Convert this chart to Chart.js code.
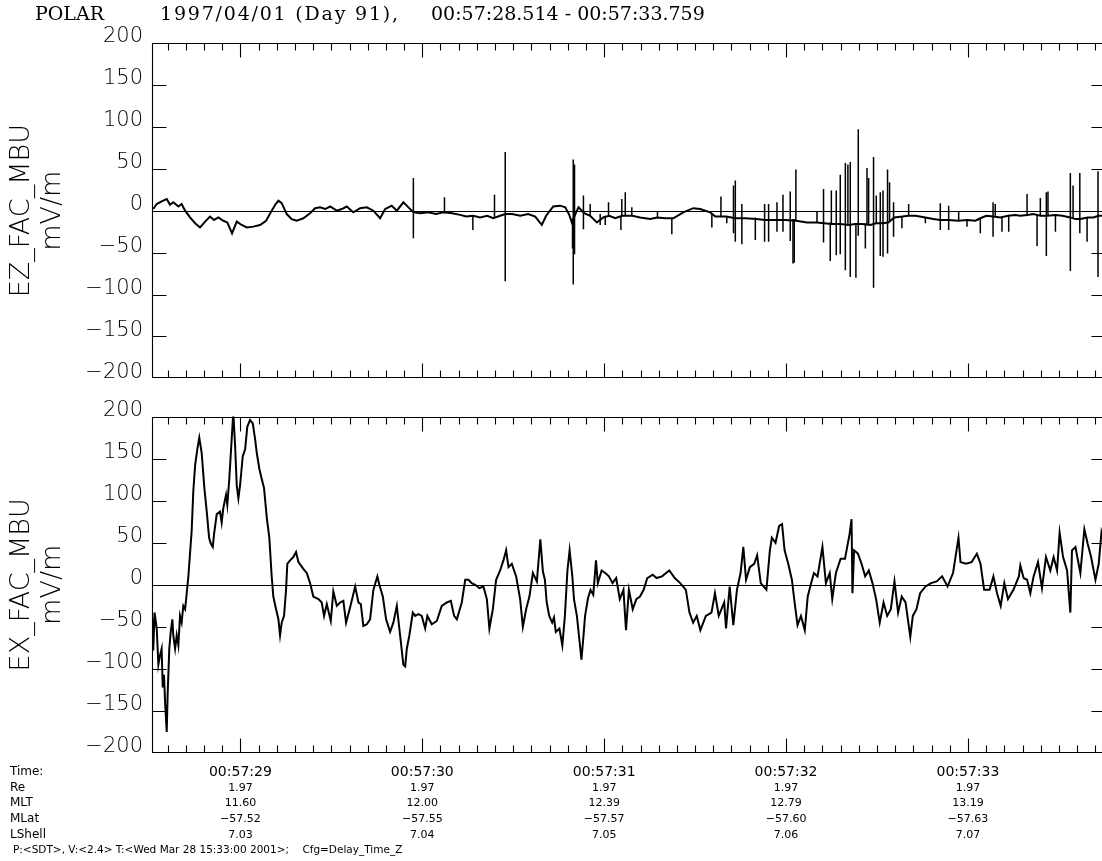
<!DOCTYPE html>
<html>
<head>
<meta charset="utf-8">
<script src="https://cdn.jsdelivr.net/npm/chart.js@4.4.0/dist/chart.umd.min.js"></script>
<style>
  html, body { margin: 0; padding: 0; background: #fff; overflow: hidden; }
  #wrap { position: relative; width: 1102px; height: 861px; overflow: hidden; background: #fff; }
  canvas { position: absolute; left: 0; }
</style>
</head>
<body>
<div id="wrap">
  <canvas id="ezCanvas" width="1120" height="400" style="top:0px"></canvas>
  <canvas id="exCanvas" width="1120" height="466" style="top:395px"></canvas>
</div>
<script>
// Time span of the interval (seconds of minute 00:57)
const timeStart = 28.514;
const timeEnd = 33.759;

// Field axis ticks (mV/m)
const fieldTicks = [-200, -150, -100, -50, 0, 50, 100, 150, 200];

// EZ_FAC_MBU: slowly varying part of the trace
const ezTime = [
  28.521, 28.540, 28.567, 28.595, 28.613, 28.631, 28.659, 28.677, 28.696, 28.723,
  28.751, 28.778, 28.806, 28.833, 28.855, 28.879, 28.906, 28.928, 28.954, 28.980,
  29.007, 29.035, 29.071, 29.108, 29.141, 29.167, 29.191, 29.209, 29.227, 29.255,
  29.282, 29.310, 29.346, 29.383, 29.411, 29.438, 29.466, 29.493, 29.530, 29.557,
  29.585, 29.621, 29.658, 29.695, 29.731, 29.768, 29.796, 29.832, 29.860, 29.896,
  29.924, 29.942,
  29.955, 29.988, 30.032, 30.076, 30.115, 30.164, 30.208, 30.241, 30.280, 30.318,
  30.357, 30.390, 30.428, 30.456, 30.494, 30.538, 30.582, 30.621, 30.657, 30.681,
  30.720, 30.758, 30.786, 30.808, 30.822, 30.846, 30.859, 30.890, 30.923, 30.960,
  30.995, 31.028, 31.061, 31.099, 31.154, 31.198, 31.253, 31.292, 31.336, 31.380,
  31.435, 31.490, 31.528, 31.583, 31.611, 31.671, 31.721, 31.776, 31.836, 31.886,
  31.941, 31.996, 32.056, 32.115, 32.170, 32.210, 32.249, 32.298, 32.342, 32.381,
  32.419, 32.463, 32.496, 32.529, 32.562, 32.595, 32.639, 32.672, 32.711, 32.766,
  32.810, 32.848, 32.892, 32.947, 32.997, 33.041, 33.068, 33.101, 33.140, 33.178,
  33.222, 33.261, 33.288, 33.327, 33.360, 33.398, 33.437, 33.481, 33.519, 33.563,
  33.591, 33.618, 33.657, 33.690, 33.717, 33.745, 33.759
];
const ezValue = [
  2, 8, 11, 14, 7, 10, 5, 8, 0, -8,
  -15, -20, -13, -7, -11, -8, -12, -14, -27, -13,
  -17, -20, -19, -17, -12, -2, 7, 12, 9, -4,
  -10, -12, -9, -3, 3, 4, 2, 5, 0, 2,
  5, -2, 3, 4, 0, -9, 2, 6, 0, 10,
  4, 0,
  -2, -3, -2, -4, -2, -3, -5, -7, -6, -8,
  -6, -9, -6, -4, -4, -6, -4, -7, -17, -6,
  5, 6, 4, -5, -14, -2, 4, -3, -6, -14,
  -8, -6, -9, -6, -6, -8, -10, -8, -9, -9,
  -2, 3, 2, -2, -7, -7, -9, -9, -10, -11,
  -11, -11, -12, -14, -14, -15, -16, -16, -17, -16,
  -16, -17, -15, -15, -14, -8, -7, -6, -6, -8,
  -10, -11, -11, -12, -11, -12, -9, -6, -7, -8,
  -6, -5, -6, -5, -4, -6, -6, -5, -6, -8,
  -10, -10, -8, -8, -6, -6, -4
];

// EZ_FAC_MBU: short impulsive spikes (time, upper and lower excursion)
const ezSpikeTime = [
  29.951, 30.122, 30.278, 30.397, 30.456, 30.826, 30.830, 30.837, 30.886, 30.923,
  30.978, 31.006, 31.024, 31.092, 31.097, 31.116, 31.152, 31.293, 31.372, 31.592,
  31.642, 31.674, 31.711, 31.721, 31.757, 31.831, 31.882, 31.904, 31.950, 31.983,
  32.023, 32.038, 32.045, 32.054, 32.170, 32.206, 32.243, 32.249, 32.276, 32.298,
  32.326, 32.340, 32.353, 32.384, 32.397, 32.436, 32.445, 32.454, 32.481, 32.496,
  32.518, 32.533, 32.558, 32.569, 32.591, 32.637, 32.674, 32.766, 32.848, 32.894,
  32.949, 32.995, 33.068, 33.138, 33.150, 33.187, 33.224, 33.325, 33.380, 33.398,
  33.431, 33.440, 33.481, 33.563, 33.578, 33.615, 33.655, 33.715
];
const ezSpikeHigh = [
  39, 16, -6, 19, 70, -10, 61, 55, 18, 8,
  -4, -6, 10, -6, 14, 22, 4, -1, -9, -4,
  17, -7, 30, 36, 8, -8, 8, 8, 10, 19,
  23, -10, -10, 49, -1, 26, -14, 24, 24, 43,
  57, 55, 58, -16, 97, -15, 51, 39, 64, 18,
  22, 24, 49, 34, 10, -7, 8, -8, 9, 6,
  -1, -11, -9, 10, 8, -7, -6, 20, -5, 15,
  22, 23, -5, 45, 30, 45, -8, 47
];
const ezSpikeLow = [
  -33, -3, -23, -8, -84, -45, -88, -52, -22, -6,
  -17, -17, -6, -23, -6, -6, -6, -8, -28, -20,
  -7, -15, -27, -37, -40, -35, -37, -37, -25, -25,
  -36, -63, -62, -12, -14, -38, -60, -16, -53, -52,
  -71, -17, -79, -80, -30, -45, -16, -17, -92, -15,
  -54, -55, -51, -12, -31, -21, -6, -15, -23, -23,
  -12, -19, -27, -31, -6, -25, -25, -5, -42, -6,
  -54, -6, -25, -72, -10, -27, -37, -79
];

// EX_FAC_MBU trace
const exTime = [
  28.517, 28.521, 28.528, 28.540, 28.549, 28.558, 28.567, 28.573, 28.580, 28.586,
  28.595, 28.600, 28.609, 28.617, 28.626, 28.631, 28.641, 28.650, 28.659, 28.668,
  28.677, 28.686, 28.696, 28.705, 28.714, 28.723, 28.732, 28.741, 28.751, 28.763,
  28.774, 28.787, 28.802, 28.815, 28.828, 28.837, 28.848, 28.855, 28.870, 28.888,
  28.897, 28.906, 28.921, 28.928, 28.939, 28.952, 28.961, 28.971, 28.980, 28.989,
  28.998, 29.013, 29.026, 29.038, 29.053, 29.068, 29.081, 29.090, 29.104, 29.117,
  29.130, 29.145, 29.159, 29.172, 29.181, 29.196, 29.209, 29.218, 29.227, 29.240,
  29.251, 29.258, 29.273, 29.291, 29.306, 29.319, 29.346, 29.365, 29.383, 29.401,
  29.429, 29.447, 29.460, 29.475, 29.497, 29.511, 29.530, 29.548, 29.566, 29.581,
  29.603, 29.631, 29.649, 29.662, 29.676, 29.695, 29.713, 29.731, 29.753, 29.764,
  29.783, 29.801, 29.823, 29.841, 29.860, 29.878, 29.896, 29.906, 29.915, 29.929,
  29.948, 29.961, 29.979, 29.997, 30.016, 30.028, 30.052, 30.080, 30.107, 30.135,
  30.157, 30.175, 30.190, 30.217, 30.236, 30.254, 30.272, 30.291, 30.314, 30.336,
  30.355, 30.369, 30.388, 30.406, 30.428, 30.446, 30.461, 30.474, 30.492, 30.516,
  30.538, 30.553, 30.571, 30.589, 30.608, 30.630, 30.649, 30.663, 30.674, 30.684,
  30.698, 30.714, 30.724, 30.734, 30.754, 30.770, 30.784, 30.798, 30.810, 30.825,
  30.834, 30.850, 30.865, 30.875, 30.885, 30.895, 30.911, 30.925, 30.940, 30.955,
  30.965, 30.986, 31.006, 31.026, 31.046, 31.066, 31.086, 31.106, 31.120, 31.136,
  31.157, 31.177, 31.197, 31.217, 31.237, 31.267, 31.288, 31.318, 31.358, 31.388,
  31.418, 31.449, 31.469, 31.489, 31.509, 31.529, 31.559, 31.590, 31.609, 31.630,
  31.660, 31.670, 31.690, 31.710, 31.730, 31.750, 31.765, 31.780, 31.801, 31.825,
  31.841, 31.861, 31.892, 31.911, 31.922, 31.942, 31.962, 31.978, 31.992, 32.012,
  32.032, 32.047, 32.063, 32.082, 32.103, 32.119, 32.133, 32.153, 32.173, 32.200,
  32.219, 32.240, 32.254, 32.274, 32.300, 32.324, 32.349, 32.360, 32.365, 32.374,
  32.395, 32.415, 32.435, 32.455, 32.475, 32.495, 32.515, 32.536, 32.556, 32.576,
  32.596, 32.616, 32.636, 32.657, 32.683, 32.697, 32.717, 32.737, 32.767, 32.797,
  32.828, 32.858, 32.888, 32.918, 32.948, 32.959, 32.989, 33.020, 33.049, 33.069,
  33.089, 33.119, 33.140, 33.160, 33.180, 33.200, 33.220, 33.250, 33.280, 33.288,
  33.306, 33.325, 33.343, 33.361, 33.385, 33.407, 33.429, 33.453, 33.471, 33.490,
  33.504, 33.523, 33.545, 33.563, 33.572, 33.591, 33.618, 33.640, 33.658, 33.677,
  33.701, 33.719, 33.734, 33.759
];
const exValue = [
  -40, -78, -33, -52, -95, -84, -76, -122, -107, -140,
  -175, -130, -76, -56, -41, -60, -76, -60, -72, -37,
  -45, -25, -29, -10, 10, 37, 64, 111, 142, 161,
  175, 157, 115, 87, 56, 49, 45, 60, 84, 87,
  74, 91, 107, 95, 126, 173, 205, 165, 118, 103,
  118, 153, 161, 188, 196, 192, 173, 157, 138, 126,
  115, 80, 56, 10, -14, -29, -41, -60, -45, -37,
  -6, 25, 29, 33, 39, 27, 19, 14, 2, -14,
  -17, -21, -37, -23, -43, -8, -25, -21, -19, -45,
  -27, -2, -21, -23, -49, -47, -41, -6, 10, 0,
  -14, -41, -56, -45, -25, -60, -95, -97, -76, -60,
  -33, -37, -35, -37, -52, -37, -47, -43, -25, -21,
  -19, -37, -41, -21, 6, 6, 2, 0, -4, -2,
  -17, -52, -29, 6, 17, 29, 41, 21, 25, 10,
  -17, -50, -29, -14, 14, 4, 54, 16, 6, -21,
  -37, -45, -39, -56, -52, -72, -37, 17, 41, 10,
  -17, -37, -68, -89, -64, -37, -16, -6, -12, 29,
  2, 17, 14, 10, 2, 8, -17, -6, -54, -6,
  -29, -17, -14, -6, 8, 12, 8, 10, 17, 8,
  2, -6, -33, -45, -37, -54, -37, -33, -10, -37,
  -21, -52, -2, -48, -6, 14, 45, 6, 21, 25,
  35, 2, -6, 41, 56, 50, 70, 72, 41, 25,
  6, -21, -48, -37, -54, -14, -2, 14, 10, 45,
  2, 14, -17, 14, 31, 31, 60, 78, -10, 41,
  37, 25, 10, 17, 2, -17, -45, -21, -37, -29,
  4, -33, -14, -21, -62, -37, -29, -10, -2, 2,
  4, 10, -2, 14, 56, 27, 25, 27, 37, 25,
  -6, -6, 10, -10, -25, 2, -17, -6, 10, 23,
  8, 6, -10, 10, 27, -4, 33, 17, 33, 17,
  62, 33, 17, -33, 41, 45, 14, 66, 49, 33,
  6, 25, 62, 40
];

// Ephemeris listed under the time ticks
const ephemSeconds = [29, 30, 31, 32, 33];
const ephemTime = ['00:57:29', '00:57:30', '00:57:31', '00:57:32', '00:57:33'];
const ephemRe = ['1.97', '1.97', '1.97', '1.97', '1.97'];
const ephemMLT = ['11.60', '12.00', '12.39', '12.79', '13.19'];
const ephemMLat = ['\u221257.52', '\u221257.55', '\u221257.57', '\u221257.60', '\u221257.63'];
const ephemLShell = ['7.03', '7.04', '7.05', '7.06', '7.07'];

const INK = '#000';
const THIN = "'DejaVu Sans', 'Liberation Sans', sans-serif";

// Frame, zero line and inward tick marks of a panel
const panelFrame = {
  id: 'panelFrame',
  afterDatasetsDraw(chart) {
    const { ctx, chartArea: a, scales: { x, y } } = chart;
    const L = Math.round(a.left) + 0.5;
    const R = Math.round(a.right) - 0.5;
    const T = Math.round(a.top) + 0.5;
    const B = Math.round(a.bottom) - 0.5;
    ctx.save();
    ctx.strokeStyle = INK;
    ctx.lineWidth = 1.1;
    ctx.beginPath();
    ctx.moveTo(R, T); ctx.lineTo(L, T); ctx.lineTo(L, B); ctx.lineTo(R, B); ctx.lineTo(R, T);
    const z = Math.round(y.getPixelForValue(0)) + 0.5;
    ctx.moveTo(L, z); ctx.lineTo(R, z);
    for (let k = Math.ceil(x.min * 10 - 1e-6); k <= Math.floor(x.max * 10 + 1e-6); k++) {
      const px = Math.round(x.getPixelForValue(k / 10)) + 0.5;
      const len = k % 10 === 0 ? 14 : 7;
      ctx.moveTo(px, T); ctx.lineTo(px, T + len);
      ctx.moveTo(px, B); ctx.lineTo(px, B - len);
    }
    fieldTicks.forEach(v => {
      if (v <= y.min || v >= y.max) return;
      const py = Math.round(y.getPixelForValue(v)) + 0.5;
      ctx.moveTo(L, py); ctx.lineTo(L + 14, py);
      ctx.moveTo(R, py); ctx.lineTo(R - 14, py);
    });
    ctx.stroke();
    ctx.restore();
  }
};

// Header line over the upper panel
const headerText = {
  id: 'headerText',
  afterDraw(chart) {
    const ctx = chart.ctx;
    ctx.save();
    ctx.fillStyle = INK;
    ctx.textBaseline = 'alphabetic';
    ctx.font = "19px 'DejaVu Serif', 'Liberation Serif', serif";
    ctx.fillText('POLAR', 35, 20);
    ctx.letterSpacing = '1.8px';
    ctx.fillText('1997/04/01 (Day 91),', 160, 20);
    ctx.letterSpacing = '0px';
    ctx.fillText('00:57:28.514 - 00:57:33.759', 431, 20);
    ctx.restore();
  }
};

// Time labels and orbit rows under the lower panel
const ephemerisRows = {
  id: 'ephemerisRows',
  afterDraw(chart) {
    const { ctx, scales: { x } } = chart;
    const top = 395;
    const rows = [
      { label: 'Time:', values: ephemTime, y: 772, size: 14 },
      { label: 'Re', values: ephemRe, y: 788, size: 11 },
      { label: 'MLT', values: ephemMLT, y: 803, size: 11 },
      { label: 'MLat', values: ephemMLat, y: 819, size: 11 },
      { label: 'LShell', values: ephemLShell, y: 835, size: 11 }
    ];
    ctx.save();
    ctx.fillStyle = INK;
    ctx.textBaseline = 'middle';
    rows.forEach(r => {
      ctx.textAlign = 'left';
      ctx.font = '12px ' + THIN;
      ctx.fillText(r.label, 10, r.y - top);
      ctx.textAlign = 'center';
      ctx.font = r.size + 'px ' + THIN;
      ephemSeconds.forEach((s, i) => {
        ctx.fillText(r.values[i], x.getPixelForValue(s), r.y - top);
      });
    });
    ctx.textAlign = 'left';
    ctx.font = '10.5px ' + THIN;
    ctx.fillText('P:<SDT>, V:<2.4> T:<Wed Mar 28 15:33:00 2001>;    Cfg=Delay_Time_Z', 13, 850 - top);
    ctx.restore();
  }
};

function fieldLabel(v) {
  return v < 0 ? '\u2212' + Math.abs(v) : String(v);
}

function panel(canvasId, datasets, titleLines, padding, extra) {
  return new Chart(document.getElementById(canvasId), {
    type: 'line',
    data: { datasets },
    options: {
      responsive: false,
      animation: false,
      events: [],
      layout: { padding },
      plugins: { legend: { display: false }, tooltip: { enabled: false }, title: { display: false } },
      elements: { point: { radius: 0 }, line: { tension: 0 } },
      scales: {
        x: { type: 'linear', min: timeStart, max: timeEnd, display: false, offset: false },
        y: {
          type: 'linear', position: 'left', min: -200, max: 200,
          afterFit: s => { s.width = 152; },
          afterBuildTicks: s => { s.ticks = fieldTicks.map(v => ({ value: v })); },
          grid: { display: false, drawTicks: false },
          border: { display: false },
          ticks: {
            autoSkip: false, padding: 9, labelOffset: -6, color: INK,
            font: { family: THIN, size: 21, weight: '200' },
            callback: fieldLabel
          },
          title: {
            display: true, text: titleLines, color: INK,
            font: { family: THIN, size: 27, weight: '200', lineHeight: 1.15 },
            padding: { top: 6, bottom: 0 }
          }
        }
      }
    },
    plugins: [panelFrame, ...extra]
  });
}

const ezLine = ezTime.map((t, i) => ({ x: t, y: ezValue[i] }));
const ezSpikes = ezSpikeTime.map((t, i) => ({ x: t, y: [ezSpikeLow[i], ezSpikeHigh[i]] }));
const exLine = exTime.map((t, i) => ({ x: t, y: exValue[i] }));

panel('ezCanvas', [
  { type: 'line', data: ezLine, borderColor: INK, borderWidth: 2, pointRadius: 0, clip: 0 },
  { type: 'bar', data: ezSpikes, backgroundColor: INK, borderWidth: 0, barThickness: 1.5, inflateAmount: 0, clip: 0 }
], ['EZ_FAC_MBU', 'mV/m'], { left: 0, top: 43, right: 14, bottom: 14 }, [headerText]);

panel('exCanvas', [
  { type: 'line', data: exLine, borderColor: INK, borderWidth: 2, pointRadius: 0, clip: 0 }
], ['EX_FAC_MBU', 'mV/m'], { left: 0, top: 15, right: 14, bottom: 108 }, [ephemerisRows]);
</script>
</body>
</html>
